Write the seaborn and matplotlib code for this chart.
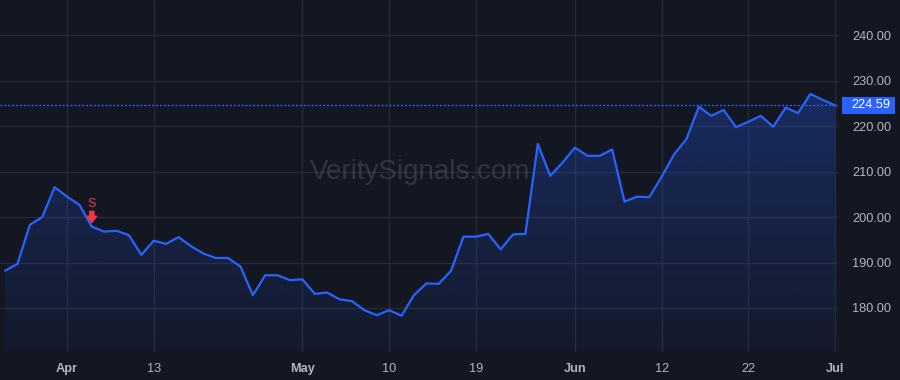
import numpy as np
import pandas as pd
import matplotlib
matplotlib.use('Agg')
import matplotlib.pyplot as plt
import matplotlib.transforms as mtransforms
from matplotlib.patches import Rectangle
import seaborn as sns

# Datos (cierres diarios, 27 mar - 3 jul 2023)
holidays = ['2023-04-07', '2023-05-29', '2023-06-19']
dates = pd.bdate_range('2023-03-27', '2023-07-03', freq='C', holidays=holidays)
close = [188.2, 189.7, 198.3, 200.0, 206.6, 204.5, 202.7, 197.9, 196.8, 197.0,
         196.0, 191.7, 194.8, 194.1, 195.6, 193.6, 192.0, 191.0, 191.0, 189.1,
         182.8, 187.2, 187.2, 186.1, 186.3, 183.1, 183.4, 181.9, 181.5, 179.5,
         178.4, 179.5, 178.3, 182.8, 185.4, 185.3, 188.2, 195.7, 195.7, 196.3,
         192.9, 196.2, 196.3, 216.1, 209.1, 212.0, 215.3, 213.5, 213.5, 214.9,
         203.4, 204.5, 204.4, 208.9, 213.8, 217.2, 224.3, 222.3, 223.6, 219.8,
         221.0, 222.3, 219.9, 224.1, 222.9, 227.1, 225.8, 224.59]
signal_date = '2023-04-05'
signal_label = 'S'

tick_dates = ['2023-04-03', '2023-04-13', '2023-05-01', '2023-05-10', '2023-05-19',
              '2023-06-01', '2023-06-12', '2023-06-22', '2023-07-03']
tick_labels = ['Apr', '13', 'May', '10', '19', 'Jun', '12', '22', 'Jul']
month_labels = {'Apr', 'May', 'Jun', 'Jul'}
y_ticks = [180, 190, 200, 210, 220, 230, 240]

bg = '#131722'
grid = '#262a35'
blue = '#2962ff'
red = '#f23645'
txt = '#b2b5be'

sns.set_style('dark', {'axes.facecolor': bg, 'figure.facecolor': bg})
plt.rcParams['font.family'] = ['Liberation Sans', 'DejaVu Sans']

df = pd.DataFrame({'pos': np.arange(len(dates)), 'close': close})

fig = plt.figure(figsize=(9, 3.8), dpi=100)
ax = fig.add_axes([0, 28 / 380, 838 / 900, 352 / 380])
xlim = (-0.41, len(dates) - 1 + 0.23)
ylim = (170.3, 247.8)

# Rejilla
tick_pos = [dates.get_loc(pd.Timestamp(d)) for d in tick_dates]
ax.set_xticks(tick_pos)
ax.set_yticks(y_ticks)
ax.grid(True, color=grid, linewidth=1)
ax.set_axisbelow(True)
for s in ax.spines.values():
    s.set_visible(False)

# Relleno degradado bajo la línea
poly = ax.fill_between(df['pos'], df['close'], ylim[0], color='none', linewidth=0)
grad = np.zeros((256, 1, 4))
grad[:, 0, :3] = matplotlib.colors.to_rgb(blue)
grad[:, 0, 3] = np.linspace(0.28, 0.04, 256)
img = ax.imshow(grad, aspect='auto', origin='upper',
                extent=[xlim[0], xlim[1], ylim[0], max(close)], zorder=1)
img.set_clip_path(poly.get_paths()[0], transform=ax.transData)

sns.lineplot(data=df, x='pos', y='close', ax=ax, color=blue, linewidth=1.6, zorder=3)
ax.set_xlim(*xlim)
ax.set_ylim(*ylim)

# Último precio
last = close[-1]
ax.axhline(last, color=blue, linestyle=(0, (1.4, 1.4)), linewidth=1, zorder=2)
trans = mtransforms.blended_transform_factory(ax.transAxes, ax.transData)
ax.add_patch(Rectangle((1 + 4 / 838, last - 1.8), 53 / 838, 3.6, transform=trans,
                       facecolor=blue, edgecolor='none', clip_on=False, zorder=5))
ax.text(1 + 13 / 838, last, f'{last:.2f}', transform=trans, color='white',
        fontsize=9.2, va='center', ha='left', zorder=6, clip_on=False)

# Señal de venta
si = dates.get_loc(pd.Timestamp(signal_date))
sv = close[si]
ax.annotate('', xy=(si, sv), xytext=(0, 11), textcoords='offset points',
            arrowprops=dict(arrowstyle='simple,head_width=0.7,head_length=0.45,tail_width=0.3',
                            color=red, shrinkA=0, shrinkB=3), zorder=6)
ax.annotate(signal_label, xy=(si, sv), xytext=(0, 16.5), textcoords='offset points',
            color=red, fontsize=9, ha='center', va='center', zorder=6)

# Marca de agua
ax.text(0.501, 0.51, 'VeritySignals.com', transform=ax.transAxes, fontsize=20,
        color='#787b86', alpha=0.3, ha='center', va='center', zorder=2)

# Ejes
ax.set_xlabel('')
ax.set_ylabel('')
ax.yaxis.tick_right()
ax.set_yticklabels([f'{v:.2f}' for v in y_ticks])
ax.set_xticklabels(tick_labels)
ax.tick_params(axis='y', length=0, pad=10, labelsize=9.2, labelcolor=txt)
ax.tick_params(axis='x', length=0, pad=8, labelsize=9.2, labelcolor=txt)
for lab in ax.get_xticklabels():
    if lab.get_text() in month_labels:
        lab.set_fontweight('bold')

fig.savefig('out.png', dpi=100, facecolor=bg)
